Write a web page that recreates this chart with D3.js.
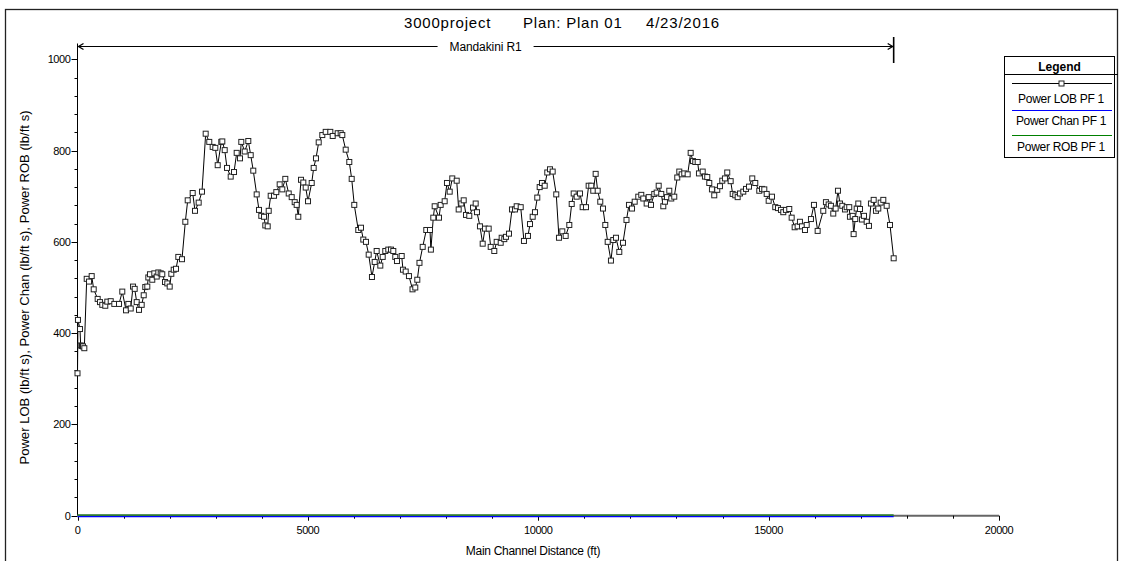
<!DOCTYPE html>
<html>
<head>
<meta charset="utf-8">
<script src="https://cdn.jsdelivr.net/npm/d3@7"></script>
<style>
  body { margin: 0; background: #fff; }
  svg { display: block; }
  text { font-family: "Liberation Sans", Arial, sans-serif; fill: #000; }
</style>
</head>
<body>
<svg id="chart" width="1123" height="561"></svg>
<script>
// Main channel distance (ft) of each cross section, downstream to upstream
const distance = [
  0, 10, 54, 69, 98, 119, 148, 200, 250, 308, 352, 438, 488, 538, 603, 647, 721, 799, 901, 972,
  1053, 1103, 1155, 1205, 1241, 1285, 1335, 1393, 1437, 1471, 1515, 1537, 1573, 1623, 1667, 1719, 1754, 1806, 1840, 1899,
  1949, 2001, 2036, 2088, 2138, 2188, 2268, 2340, 2392, 2500, 2550, 2630, 2702, 2782, 2860, 2934, 2991, 3043, 3121, 3143,
  3195, 3245, 3325, 3397, 3455, 3527, 3555, 3629, 3707, 3759, 3815, 3889, 3939, 3989, 4048, 4076, 4128, 4150, 4193, 4265,
  4315, 4388, 4445, 4510, 4584, 4649, 4714, 4757, 4792, 4851, 4901, 4953, 5003, 5083, 5126, 5176, 5235, 5313, 5387, 5487,
  5539, 5647, 5712, 5747, 5821, 5899, 5951, 6007, 6094, 6153, 6203, 6261, 6320, 6391, 6450, 6493, 6572, 6624, 6680, 6745,
  6804, 6854, 6897, 6934, 7036, 7064, 7123, 7194, 7271, 7331, 7375, 7422, 7492, 7570, 7650, 7670, 7722, 7752, 7846, 7882,
  7969, 8019, 8078, 8134, 8230, 8273, 8330, 8382, 8432, 8503, 8584, 8642, 8670, 8735, 8794, 8844, 8924, 8968, 9046, 9098,
  9185, 9206, 9263, 9300, 9365, 9430, 9495, 9532, 9619, 9690, 9777, 9821, 9879, 9929, 9979, 10031, 10081, 10140, 10196, 10255,
  10313, 10391, 10450, 10522, 10595, 10674, 10726, 10769, 10834, 10906, 10964, 11036, 11094, 11151, 11194, 11246, 11290, 11346, 11405, 11455,
  11507, 11578, 11628, 11687, 11759, 11839, 11915, 11969, 12035, 12093, 12171, 12236, 12280, 12353, 12397, 12447, 12518, 12570, 12614, 12670,
  12714, 12750, 12794, 12844, 12887, 12952, 13017, 13061, 13113, 13169, 13243, 13308, 13358, 13408, 13460, 13488, 13569, 13618, 13668, 13712,
  13770, 13820, 13885, 13944, 13994, 14052, 14102, 14176, 14220, 14276, 14328, 14378, 14450, 14509, 14574, 14645, 14710, 14797, 14856, 14906,
  14958, 15001, 15073, 15144, 15203, 15268, 15318, 15376, 15448, 15500, 15565, 15630, 15680, 15724, 15789, 15826, 15919, 15984, 16064, 16186,
  16244, 16303, 16353, 16403, 16455, 16505, 16549, 16599, 16657, 16694, 16750, 16765, 16824, 16845, 16880, 16911, 16946, 16983, 17026, 17070,
  17128, 17178, 17221, 17280, 17330, 17380, 17432, 17489, 17562, 17634, 17714
];

// Stream power in the left overbank, profile PF 1 (lb/ft s)
const powerLOB = [
  312, 429, 409, 373, 372, 371, 367, 519, 513, 525, 496, 475, 468, 462, 460, 469, 470, 464, 464, 491,
  450, 464, 454, 502, 497, 468, 451, 462, 483, 501, 502, 522, 529, 517, 531, 524, 533, 531, 529, 512,
  509, 502, 530, 539, 541, 567, 562, 644, 691, 707, 668, 686, 710, 837, 819, 808, 806, 768, 819, 820,
  801, 762, 743, 753, 795, 783, 819, 798, 821, 790, 756, 704, 670, 657, 655, 636, 634, 668, 701, 701,
  709, 726, 715, 738, 706, 698, 687, 681, 655, 736, 730, 719, 689, 729, 762, 783, 818, 834, 841, 841,
  832, 838, 838, 834, 802, 775, 738, 681, 626, 631, 605, 600, 572, 523, 556, 580, 548, 567, 580, 583,
  583, 580, 567, 558, 569, 539, 535, 525, 496, 500, 517, 554, 589, 626, 626, 583, 653, 678, 653, 681,
  689, 729, 710, 739, 734, 671, 684, 691, 659, 657, 675, 684, 665, 634, 596, 629, 629, 589, 580, 600,
  598, 609, 606, 611, 618, 671, 671, 678, 676, 602, 613, 639, 655, 665, 697, 720, 729, 723, 752, 759,
  754, 704, 609, 623, 613, 637, 683, 706, 699, 706, 676, 676, 723, 723, 712, 749, 712, 688, 673, 637,
  600, 559, 604, 609, 578, 598, 648, 681, 673, 688, 699, 703, 695, 684, 698, 681, 705, 708, 723, 705,
  678, 688, 698, 712, 695, 699, 741, 754, 748, 750, 748, 795, 777, 775, 775, 750, 754, 743, 742, 729,
  715, 702, 714, 722, 734, 739, 752, 733, 705, 702, 698, 706, 710, 716, 721, 739, 729, 712, 716, 715,
  705, 690, 699, 676, 674, 670, 665, 670, 672, 653, 632, 634, 644, 634, 626, 637, 650, 681, 624, 668,
  687, 682, 679, 662, 673, 712, 684, 679, 671, 676, 676, 655, 657, 617, 650, 673, 684, 672, 649, 657,
  644, 635, 684, 692, 668, 673, 686, 692, 679, 637, 564
];

// Main channel and right overbank power are zero along the whole reach
const zeroDistance = [0, 17714];
const powerChan = [0, 0];
const powerROB = [0, 0];

// Reach extent and name
const reachName = "Mandakini R1";
const reachExtent = [0, 17714];

// Axis ticks
const xMajorTicks = [0, 5000, 10000, 15000, 20000];
const xMinorStep = 1000;
const yMajorTicks = [0, 200, 400, 600, 800, 1000];
const yMinorStep = 40;

const titleParts = ["3000project", "Plan: Plan 01", "4/23/2016"];
const xTitle = "Main Channel Distance (ft)";
const yTitle = "Power LOB (lb/ft s), Power Chan (lb/ft s), Power ROB (lb/ft s)";
const legendItems = [
  { label: "Power LOB PF 1", color: "#000", marker: true },
  { label: "Power Chan PF 1", color: "#0000ff", marker: false },
  { label: "Power ROB PF 1", color: "#008000", marker: false }
];

const svg = d3.select("#chart");

const x = d3.scaleLinear().domain([0, 20000]).range([77.5, 999]);
const y = d3.scaleLinear().domain([0, 1000]).range([515.7, 59.3]);

// outer frame
svg.append("rect")
  .attr("x", 5.5).attr("y", 9.5).attr("width", 1112).attr("height", 560)
  .attr("fill", "none").attr("stroke", "#222").attr("stroke-width", 1.3);

// title: project, plan and date spread across the top
const titleX = [404, 523, 646];
svg.append("g").selectAll("text").data(titleParts).join("text")
  .attr("x", (d, i) => titleX[i]).attr("y", 28)
  .style("font-size", "15px")
  .style("letter-spacing", "0.8px")
  .text(d => d);

// ---- Y axis ----
const yAxisG = svg.append("g");
yAxisG.append("line")
  .attr("x1", x(0)).attr("x2", x(0))
  .attr("y1", 43.5).attr("y2", y(0))
  .attr("stroke", "#000").attr("stroke-width", 1);
const yMinor = d3.range(0, 1000 + 1, yMinorStep).filter(v => !yMajorTicks.includes(v));
yAxisG.selectAll("line.ymin").data(yMinor).join("line")
  .attr("class", "ymin")
  .attr("x1", x(0) - 3).attr("x2", x(0))
  .attr("y1", d => Math.round(y(d)) + 0.5).attr("y2", d => Math.round(y(d)) + 0.5)
  .attr("stroke", "#000");
yAxisG.selectAll("line.ymaj").data(yMajorTicks).join("line")
  .attr("class", "ymaj")
  .attr("x1", x(0) - 6).attr("x2", x(0))
  .attr("y1", d => Math.round(y(d)) + 0.5).attr("y2", d => Math.round(y(d)) + 0.5)
  .attr("stroke", "#000");
yAxisG.selectAll("text").data(yMajorTicks).join("text")
  .attr("x", x(0) - 7).attr("y", d => y(d))
  .attr("dy", "0.36em")
  .attr("text-anchor", "end")
  .style("font-size", "11px")
  .style("letter-spacing", "-0.4px")
  .text(d => d);

svg.append("text")
  .attr("transform", `translate(24,${(y(0) + y(1000)) / 2}) rotate(-90)`)
  .attr("text-anchor", "middle")
  .attr("dy", "0.35em")
  .style("font-size", "13px")
  .style("letter-spacing", "0.05px")
  .text(yTitle);

// ---- X axis ----
const xAxisG = svg.append("g");
xAxisG.append("line")
  .attr("x1", x(0)).attr("x2", x(20000))
  .attr("y1", y(0)).attr("y2", y(0))
  .attr("stroke", "#666").attr("stroke-width", 2);
const xMinor = d3.range(0, 20000 + 1, xMinorStep).filter(v => !xMajorTicks.includes(v));
xAxisG.selectAll("line.xmin").data(xMinor).join("line")
  .attr("class", "xmin")
  .attr("x1", d => Math.round(x(d)) + 0.5).attr("x2", d => Math.round(x(d)) + 0.5)
  .attr("y1", y(0)).attr("y2", y(0) + 3)
  .attr("stroke", "#000");
xAxisG.selectAll("line.xmaj").data(xMajorTicks).join("line")
  .attr("class", "xmaj")
  .attr("x1", d => Math.round(x(d)) + 0.5).attr("x2", d => Math.round(x(d)) + 0.5)
  .attr("y1", y(0)).attr("y2", y(0) + 5)
  .attr("stroke", "#000");
xAxisG.selectAll("text").data(xMajorTicks).join("text")
  .attr("x", d => x(d)).attr("y", y(0) + 18)
  .attr("text-anchor", "middle")
  .style("font-size", "11px")
  .style("letter-spacing", "-0.4px")
  .text(d => d);

svg.append("text")
  .attr("x", 533).attr("y", 555)
  .attr("text-anchor", "middle")
  .style("font-size", "12px")
  .style("letter-spacing", "-0.3px")
  .text(xTitle);

// ---- zero-valued series along the bed ----
const zeroLine = d3.line().x((d, i) => x(zeroDistance[i])).y(d => y(d));
svg.append("path").datum(powerChan)
  .attr("d", zeroLine).attr("fill", "none")
  .attr("stroke", "#0000ff").attr("stroke-width", 1.2)
  .attr("transform", "translate(0,1)");
svg.append("path").datum(powerROB)
  .attr("d", zeroLine).attr("fill", "none")
  .attr("stroke", "#2e7d32").attr("stroke-width", 1.8)
  .attr("transform", "translate(0,-0.6)");

// ---- reach bracket ----
const reachY = 46.5;
const rx0 = x(reachExtent[0]), rx1 = x(reachExtent[1]);
const reachMid = (rx0 + rx1) / 2;
const reachG = svg.append("g");
const labelW = 96;
reachG.append("line")
  .attr("x1", rx0).attr("x2", reachMid - labelW / 2)
  .attr("y1", reachY).attr("y2", reachY).attr("stroke", "#000");
reachG.append("line")
  .attr("x1", reachMid + labelW / 2).attr("x2", rx1)
  .attr("y1", reachY).attr("y2", reachY).attr("stroke", "#000");
reachG.append("path")
  .attr("d", `M${rx0 + 6},${reachY - 3}L${rx0 + 1},${reachY}L${rx0 + 6},${reachY + 3}`)
  .attr("fill", "none").attr("stroke", "#000").attr("stroke-width", 1.3);
reachG.append("path")
  .attr("d", `M${rx1 - 6},${reachY - 3}L${rx1 - 1},${reachY}L${rx1 - 6},${reachY + 3}`)
  .attr("fill", "none").attr("stroke", "#000").attr("stroke-width", 1.3);
reachG.append("line")
  .attr("x1", rx1).attr("x2", rx1)
  .attr("y1", 37).attr("y2", 63)
  .attr("stroke", "#000").attr("stroke-width", 1.6);
reachG.append("text")
  .attr("x", reachMid).attr("y", reachY).attr("dy", "0.35em")
  .attr("text-anchor", "middle")
  .style("font-size", "12px")
  .style("letter-spacing", "-0.1px")
  .text(reachName);

// ---- LOB power profile ----
const lobLine = d3.line().x((d, i) => x(distance[i])).y(d => y(d));
svg.append("path").datum(powerLOB)
  .attr("d", lobLine).attr("fill", "none")
  .attr("stroke", "#000").attr("stroke-width", 1);
svg.append("g").selectAll("rect").data(powerLOB).join("rect")
  .attr("x", (d, i) => x(distance[i]) - 2.5)
  .attr("y", d => y(d) - 2.5)
  .attr("width", 5).attr("height", 5)
  .attr("fill", "#fff").attr("stroke", "#222").attr("stroke-width", 1);

// ---- legend ----
const lg = svg.append("g");
const lgX = 1004.5, lgY = 56.5, lgW = 110, lgH = 101;
lg.append("rect")
  .attr("x", lgX).attr("y", lgY).attr("width", lgW).attr("height", lgH)
  .attr("fill", "#fff").attr("stroke", "#000").attr("stroke-width", 1);
lg.append("text")
  .attr("x", lgX + lgW / 2).attr("y", 67).attr("dy", "0.35em")
  .attr("text-anchor", "middle")
  .style("font-size", "12px").style("font-weight", "bold")
  .text("Legend");
lg.append("line")
  .attr("x1", lgX).attr("x2", 1118).attr("y1", 74.5).attr("y2", 74.5)
  .attr("stroke", "#000");
const rowLineY = [83.5, 110.5, 135.5];
const rowTextY = [99, 121, 147];
legendItems.forEach((it, i) => {
  lg.append("line")
    .attr("x1", 1012).attr("x2", 1112)
    .attr("y1", rowLineY[i]).attr("y2", rowLineY[i])
    .attr("stroke", it.color).attr("stroke-width", 1.2);
  if (it.marker) {
    lg.append("rect")
      .attr("x", 1059).attr("y", rowLineY[i] - 2.5)
      .attr("width", 5).attr("height", 5)
      .attr("fill", "#fff").attr("stroke", "#222");
  }
  lg.append("text")
    .attr("x", 1061).attr("y", rowTextY[i]).attr("dy", "0.35em")
    .attr("text-anchor", "middle")
    .style("font-size", "12px")
    .style("letter-spacing", "-0.3px")
    .text(it.label);
});
</script>
</body>
</html>
